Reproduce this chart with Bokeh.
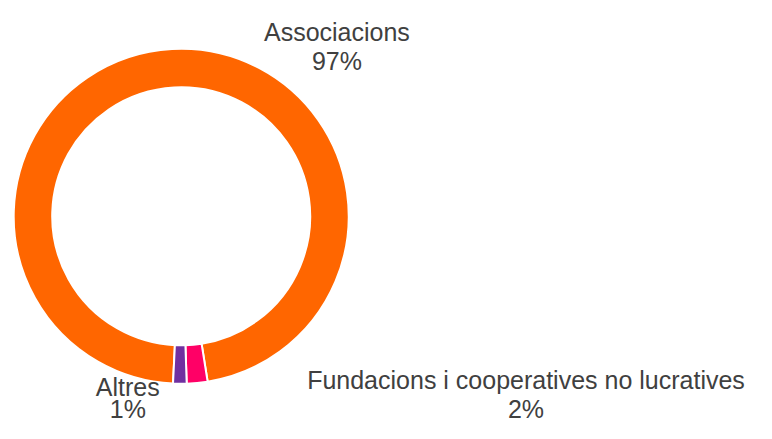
import math
from bokeh.plotting import figure
from bokeh.models import Range1d, ColumnDataSource
from bokeh.core.properties import value
from bokeh.embed import file_html
from bokeh.resources import INLINE

# ---- data ----
categories = ["Associacions", "Fundacions i cooperatives no lucratives", "Altres"]
shares = [96.7, 2.0, 1.3]
pct_labels = ["97%", "2%", "1%"]
colors = ["#FF6600", "#FF0066", "#7030A0"]

# ---- layout (pixel-like data units, y measured from the top) ----
W, H = 756, 423
cx, cy_top = 180.7, 215.8
r_out, r_in = 167.5, 129.0
start_deg = -92.8  # slices run clockwise from here

total = sum(shares)
starts, ends = [], []
a = math.radians(start_deg)
for s in shares:
    sweep = 2 * math.pi * s / total
    starts.append(a)
    ends.append(a - sweep)
    a -= sweep

src = ColumnDataSource(dict(cat=categories, start=starts, end=ends, color=colors))

p = figure(width=W, height=H, output_backend="svg", toolbar_location=None,
           x_range=Range1d(0, W), y_range=Range1d(0, H),
           min_border=0, outline_line_color=None)
p.axis.visible = False
p.grid.visible = False
p.background_fill_color = "white"
p.border_fill_color = "white"

p.annular_wedge(x=cx, y=H - cy_top, inner_radius=r_in, outer_radius=r_out,
                start_angle="start", end_angle="end", direction="clock",
                fill_color="color", line_color="white", line_width=2, source=src)

# label anchors: (x center, name baseline, pct baseline), y from top
label_pos = [(336.4, 31.8, 60.7), (525.5, 379.0, 408.0), (127.3, 386.0, 408.0)]
nx = [x for (x, _, _) in label_pos]
ny = [H - y1 for (_, y1, _) in label_pos]
py = [H - y2 for (_, _, y2) in label_pos]

common = dict(text_font=value("Liberation Sans"), text_font_size="25px",
              text_color="#404040", text_align="center", text_baseline="alphabetic")
p.text(x=nx, y=ny, text=categories, **common)
p.text(x=nx, y=py, text=pct_labels, **common)

open("out.html", "w").write(file_html(p, INLINE))
